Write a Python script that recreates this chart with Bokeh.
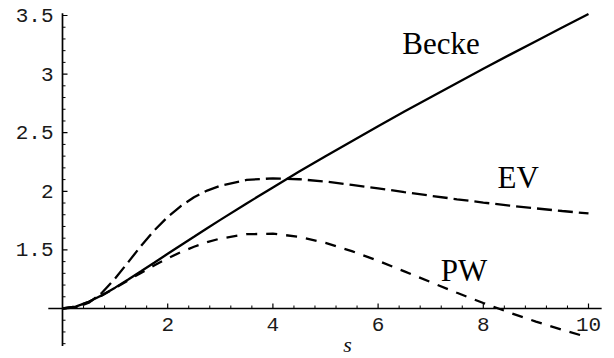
import numpy as np
from bokeh.plotting import figure
from bokeh.models import ColumnDataSource, Range1d
from bokeh.core.properties import value
from bokeh.embed import file_html
from bokeh.resources import INLINE

# ---- data ----
s = [0, 0.25, 0.5, 0.75, 1, 1.25, 1.5, 1.75, 2, 2.25, 2.5, 2.75, 3, 3.5, 4,
     4.5, 5, 5.5, 6, 6.5, 7, 7.5, 8, 8.5, 9, 9.5, 10]
becke = [1.0, 1.016, 1.057, 1.113, 1.178, 1.248, 1.320, 1.393, 1.467, 1.540,
         1.612, 1.685, 1.756, 1.896, 2.033, 2.168, 2.299, 2.428, 2.555, 2.680,
         2.803, 2.925, 3.045, 3.164, 3.281, 3.397, 3.512]
ev = [1.0, 1.009, 1.049, 1.134, 1.256, 1.396, 1.538, 1.668, 1.781, 1.874,
      1.949, 2.006, 2.048, 2.097, 2.111, 2.103, 2.083, 2.055, 2.025, 1.993,
      1.962, 1.932, 1.904, 1.878, 1.854, 1.832, 1.811]
pw = [1.0, 1.016, 1.057, 1.112, 1.175, 1.241, 1.306, 1.369, 1.428, 1.481,
      1.527, 1.566, 1.597, 1.634, 1.638, 1.612, 1.560, 1.490, 1.407, 1.317,
      1.225, 1.134, 1.047, 0.965, 0.888, 0.818, 0.753]

x_major = [2, 4, 6, 8, 10]
x_major_labels = ["2", "4", "6", "8", "10"]
y_major = [1.5, 2, 2.5, 3, 3.5]
y_major_labels = ["1.5", "2", "2.5", "3", "3.5"]

curve_names = ["Becke", "EV", "PW"]
name_x = [6.46, 8.27, 7.19]
name_y = [3.26, 2.118, 1.324]

x_title = "s"

# ---- geometry ----
X0_PX, PX_PER_X = 62.0, 52.6     # pixel of s=0, px per unit s
Y1_PX, PX_PER_Y = 308.0, 117.2   # pixel of F=1, px per unit F
W, H = 614, 358

p = figure(width=W, height=H, output_backend="svg", toolbar_location=None,
           x_range=Range1d(-X0_PX / PX_PER_X, (W - X0_PX) / PX_PER_X),
           y_range=Range1d(1 - (H - Y1_PX) / PX_PER_Y, 1 + Y1_PX / PX_PER_Y),
           min_border=0, x_axis_type=None, y_axis_type=None)
p.grid.visible = False
p.outline_line_color = None
p.background_fill_color = "white"
p.border_fill_color = "white"

def dx(px):
    return px / PX_PER_X

def dy(px):
    return px / PX_PER_Y

AX = "#000000"
# axes lines (crossing at s=0, F=1)
p.segment(x0=[-0.27], y0=[1], x1=[10.25], y1=[1], line_color=AX, line_width=1.7)
p.segment(x0=[0], y0=[0.68], x1=[0], y1=[3.52], line_color=AX, line_width=1.7)

# x ticks (pointing up)
x_minor = [round(v, 2) for v in np.arange(0.4, 10.01, 0.4) if min(abs(v - m) for m in x_major) > 1e-6]
p.segment(x0=x_major, y0=[1] * len(x_major), x1=x_major, y1=[1 + dy(5)] * len(x_major),
          line_color=AX, line_width=1.2)
p.segment(x0=x_minor, y0=[1] * len(x_minor), x1=x_minor, y1=[1 + dy(3)] * len(x_minor),
          line_color=AX, line_width=1.0)

# y ticks (pointing right)
y_minor = [round(v, 2) for v in np.arange(0.7, 3.51, 0.1)
           if min(abs(v - m) for m in y_major + [1.0]) > 1e-6]
p.segment(x0=[0] * len(y_major), y0=y_major, x1=[dx(5)] * len(y_major), y1=y_major,
          line_color=AX, line_width=1.2)
p.segment(x0=[0] * len(y_minor), y0=y_minor, x1=[dx(3)] * len(y_minor), y1=y_minor,
          line_color=AX, line_width=1.0)

# tick labels
p.text(x=x_major, y=[1 - dy(9)] * len(x_major), text=x_major_labels,
       text_font=value("Liberation Mono"), text_font_size="21px",
       text_align="center", text_baseline="top", text_color="#1a1a1a")
p.text(x=[-dx(9)] * len(y_major), y=y_major, text=y_major_labels,
       text_font=value("Liberation Mono"), text_font_size="21px",
       text_align="right", text_baseline="middle", text_color="#1a1a1a")

# axis title
p.text(x=[5.42], y=[1 - dy(36)], text=[x_title], text_font=value("Liberation Serif"),
       text_font_style="italic", text_font_size="22px",
       text_align="center", text_baseline="middle", text_color="#111111")

# curves
src = ColumnDataSource(dict(s=s, becke=becke, ev=ev, pw=pw))
p.line("s", "becke", source=src, line_color="black", line_width=2.3)
p.line("s", "ev", source=src, line_color="black", line_width=2.3, line_dash="15 6")
p.line("s", "pw", source=src, line_color="black", line_width=2.3, line_dash="11 9")

# curve names
p.text(x=name_x, y=name_y, text=curve_names, text_font=value("Liberation Serif"),
       text_font_size="31px", text_align="left", text_baseline="alphabetic",
       text_color="black")

open("out.html", "w").write(file_html(p, INLINE))
